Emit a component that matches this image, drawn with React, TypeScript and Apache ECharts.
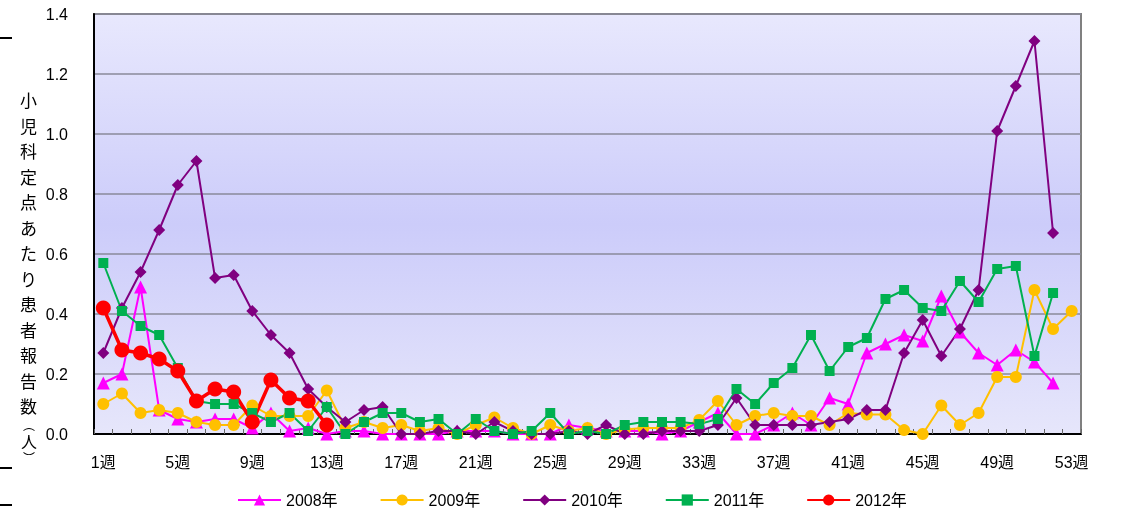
import React, { useEffect, useRef } from "react";
import * as echarts from "echarts";

const weeks = ["1週","2週","3週","4週","5週","6週","7週","8週","9週","10週","11週","12週","13週","14週","15週","16週","17週","18週","19週","20週","21週","22週","23週","24週","25週","26週","27週","28週","29週","30週","31週","32週","33週","34週","35週","36週","37週","38週","39週","40週","41週","42週","43週","44週","45週","46週","47週","48週","49週","50週","51週","52週","53週"];

const y2008 = [0.17,0.20,0.49,0.08,0.05,0.04,0.05,0.05,0.02,0.07,
  0.01,0.02,0.0,0.01,0.01,0.0,0.0,0.0,0.0,0.01,
  0.01,0.01,0.0,0.0,0.0,0.03,0.02,0.01,0.01,0.01,
  0.0,0.01,0.04,0.07,0.0,0.0,0.03,0.07,0.03,0.12,
  0.10,0.27,0.30,0.33,0.31,0.46,0.34,0.27,0.23,0.28,0.24,0.17,null];

const y2009 = [0.10,0.135,0.07,0.08,0.07,0.04,0.03,0.03,0.095,0.06,
  0.06,0.06,0.145,0.02,0.04,0.02,0.03,0.01,0.02,0.0,
  0.03,0.055,0.02,0.0,0.03,0.01,0.02,0.0,0.015,0.02,
  0.02,0.02,0.047,0.11,0.03,0.06,0.07,0.06,0.06,0.03,
  0.07,0.065,0.065,0.013,0.0,0.095,0.03,0.07,0.19,0.19,0.48,0.35,0.41];

const y2010 = [0.27,0.42,0.54,0.68,0.83,0.91,0.52,0.53,0.41,0.33,
  0.27,0.15,0.09,0.04,0.08,0.09,0.0,0.0,0.01,0.01,
  0.0,0.04,0.01,0.0,0.0,0.01,0.0,0.03,0.0,0.0,
  0.01,0.01,0.01,0.03,0.12,0.03,0.03,0.03,0.03,0.04,
  0.05,0.08,0.08,0.27,0.38,0.26,0.35,0.48,1.01,1.16,1.31,0.67,null];

const y2011 = [0.57,0.41,0.36,0.33,0.22,0.11,0.10,0.10,0.07,0.04,
  0.07,0.01,0.09,0.0,0.04,0.07,0.07,0.04,0.05,0.0,
  0.05,0.01,0.0,0.01,0.07,0.0,0.01,0.0,0.03,0.04,
  0.04,0.04,0.033,0.05,0.15,0.10,0.17,0.22,0.33,0.21,
  0.29,0.32,0.45,0.48,0.42,0.41,0.51,0.44,0.55,0.56,0.26,0.47,null];

const y2012 = [0.42,0.28,0.27,0.25,0.21,0.11,0.15,0.14,0.04,0.18,0.12,0.11,0.03];

const yTicks = [0, 0.2, 0.4, 0.6, 0.8, 1.0, 1.2, 1.4];
const yTitle = ["小","児","科","定","点","あ","た","り","患","者","報","告","数"];

const FONT = "'Liberation Sans', 'Noto Sans CJK JP', sans-serif";

export default function App() {
  const ref = useRef<HTMLDivElement>(null);
  useEffect(() => {
    if (!ref.current) return;
    const chart = echarts.init(ref.current, null, { renderer: "svg" });
    const mk = (name: string, data: any[], color: string, symbol: string, size: number, width: number) => ({
      name,
      type: "line",
      data,
      symbol,
      symbolSize: size,
      showAllSymbol: true,
      connectNulls: false,
      lineStyle: { color, width },
      itemStyle: { color },
      emphasis: { disabled: true },
    });
    chart.setOption({
      animation: false,
      grid: {
        left: 94,
        right: 40,
        top: 14,
        bottom: 79,
        show: true,
        borderColor: "#808080",
        borderWidth: 2,
        backgroundColor: new echarts.graphic.LinearGradient(0, 0, 0, 1, [
          { offset: 0, color: "#e8e8fd" },
          { offset: 0.5, color: "#ccccfa" },
          { offset: 1, color: "#e6e6fb" },
        ]),
      },
      legend: {
        left: 232,
        top: 487,
        itemWidth: 43,
        itemHeight: 14,
        itemGap: 42,
        textStyle: { fontFamily: FONT, fontSize: 16, color: "#000" },
        data: ["2008年", "2009年", "2010年", "2011年", "2012年"],
      },
      xAxis: {
        type: "category",
        data: weeks,
        boundaryGap: true,
        axisLine: { lineStyle: { color: "#000", width: 2 } },
        axisTick: { show: true, inside: true, interval: 0, length: 5, lineStyle: { color: "#666" } },
        axisLabel: { interval: 3, fontFamily: FONT, fontSize: 16, color: "#000", margin: 20 },
        splitLine: { show: false },
      },
      yAxis: {
        type: "value",
        min: 0,
        max: 1.4,
        interval: 0.2,
        axisLine: { show: true, lineStyle: { color: "#000", width: 2 } },
        axisTick: { show: false },
        axisLabel: {
          fontFamily: FONT,
          fontSize: 16,
          color: "#000",
          margin: 26,
          formatter: (v: number) => (yTicks.includes(Math.round(v * 10) / 10) ? v.toFixed(1) : ""),
        },
        splitLine: { lineStyle: { color: "#8a8a9a", width: 1.5 } },
      },
      graphic: [
        {
          type: "text",
          left: 20,
          top: 89,
          style: {
            text: yTitle.join("\n"),
            fontFamily: FONT,
            fontSize: 17,
            lineHeight: 25.5,
            fill: "#000",
            align: "center",
          },
        },
        {
          type: "text",
          x: 29,
          y: 425.5,
          style: { text: "︵", fontFamily: FONT, fontSize: 12, fill: "#000", align: "center", verticalAlign: "middle" },
        },
        {
          type: "text",
          x: 29,
          y: 442,
          style: { text: "人", fontFamily: FONT, fontSize: 16, fill: "#000", align: "center", verticalAlign: "middle" },
        },
        {
          type: "text",
          x: 29,
          y: 458.5,
          style: { text: "︶", fontFamily: FONT, fontSize: 12, fill: "#000", align: "center", verticalAlign: "middle" },
        },
        { type: "line", shape: { x1: 0, y1: 38, x2: 12, y2: 38 }, style: { stroke: "#000", lineWidth: 2 } },
        { type: "line", shape: { x1: 0, y1: 468, x2: 12, y2: 468 }, style: { stroke: "#000", lineWidth: 2 } },
        { type: "line", shape: { x1: 0, y1: 505, x2: 12, y2: 505 }, style: { stroke: "#000", lineWidth: 2 } },
      ],
      series: [
        mk("2008年", y2008, "#ff00ff", "triangle", 13, 2),
        mk("2009年", y2009, "#ffc000", "circle", 12, 2),
        mk("2010年", y2010, "#800080", "diamond", 12, 2),
        mk("2011年", y2011, "#00b050", "rect", 10, 2),
        mk("2012年", y2012, "#ff0000", "circle", 15, 3.5),
      ],
    });
    return () => chart.dispose();
  }, []);
  return <div ref={ref} style={{ position: "fixed", left: 0, top: 0, width: 1121, height: 513 }} />;
}
